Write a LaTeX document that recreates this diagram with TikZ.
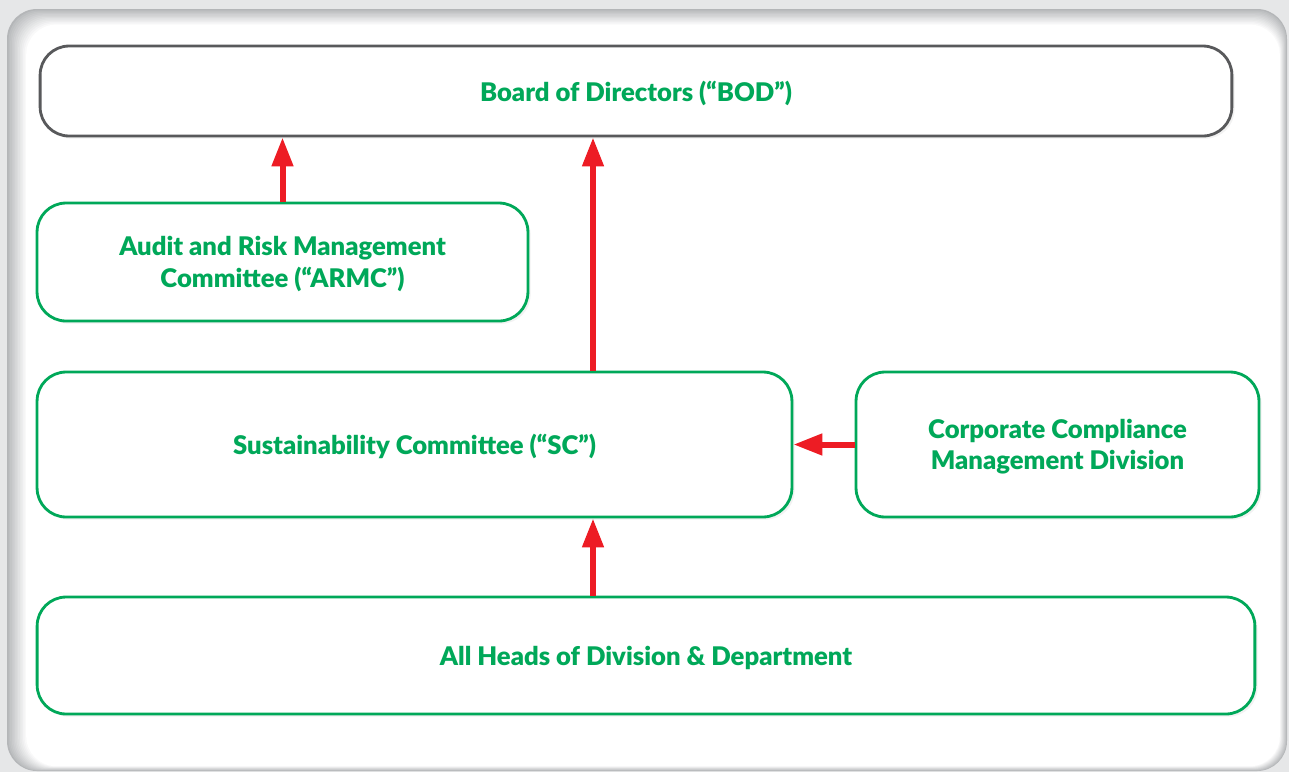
\documentclass[tikz,border=0pt]{standalone}
\usepackage{fontspec}
\setmainfont{Lato}[BoldFont={Lato Black}]
\usepackage{xcolor}
\usetikzlibrary{shadows}
\usetikzlibrary{arrows.meta,positioning,calc}
\definecolor{PanelBackground}{HTML}{E6E7E8}
\definecolor{PanelShade}{HTML}{B4B6B8}
\definecolor{CommitteeGreen}{HTML}{00A859}
\definecolor{BoardBorder}{HTML}{58595B}
\definecolor{ReportRed}{HTML}{ED1C24}
\tikzstyle{BoxNode} =[rounded corners=0.58cm,line width=1.6pt,fill=white,align=center,font=\fontsize{14.6}{18}\selectfont\bfseries,text=CommitteeGreen,text depth=0pt,drop shadow={opacity=0.10,shadow xshift=1.5pt,shadow yshift=-1.5pt}]
\tikzstyle{BoardNode} =[BoxNode,draw=BoardBorder]
\tikzstyle{CommitteeNode} =[BoxNode,draw=CommitteeGreen]
\tikzstyle{ReportsTo} =[draw=ReportRed,line width=0.12cm,-{Triangle[length=0.58cm,width=0.41cm]}]

\begin{document}
\begin{tikzpicture}[x=0.02cm,y=-0.02cm]
    % page and panel with its inner shade
    \fill[PanelBackground] (0,0) rectangle (1289,772);
    \fill[PanelShade,rounded corners=0.6cm] (7,9) rectangle (1287,771);
    \foreach \i in {1,...,12}{
        \pgfmathtruncatemacro\tint{96-8*\i}
        \fill[PanelShade!\tint!white,rounded corners=0.6cm] (7+1.6*\i,9+1.3*\i) rectangle (1287-0.6*\i,771-0.4*\i);
    }

    \node[BoardNode,minimum width=23.84cm,minimum height=1.8cm](Board-of-Directors) at (636,91){Board of Directors (“BOD”)};
    \node[CommitteeNode,minimum width=9.82cm,minimum height=2.36cm](ARMC) at (282.5,262){Audit and Risk Management\\Committee (“ARMC”)};
    \node[CommitteeNode,minimum width=15.1cm,minimum height=2.9cm](Sustainability-Committee) at (414.5,444.5){Sustainability Committee (“SC”)};
    \node[CommitteeNode,minimum width=8.06cm,minimum height=2.9cm](Compliance-Division) at (1057.5,444.5){Corporate Compliance\\Management Division};
    \node[CommitteeNode,minimum width=24.36cm,minimum height=2.34cm](Heads-of-Division) at (646,655.5){All Heads of Division \& Department};

    % reporting lines
    \coordinate (Spine) at (593,0);
    \draw[ReportsTo] (ARMC.north) -- (ARMC.north |- Board-of-Directors.south);
    \draw[ReportsTo] (Sustainability-Committee.north -| Spine) -- (Board-of-Directors.south -| Spine);
    \draw[ReportsTo] (Compliance-Division.west) -- (Sustainability-Committee.east |- Compliance-Division.west);
    \draw[ReportsTo] (Heads-of-Division.north -| Spine) -- (Sustainability-Committee.south -| Spine);
\end{tikzpicture}
\end{document}
